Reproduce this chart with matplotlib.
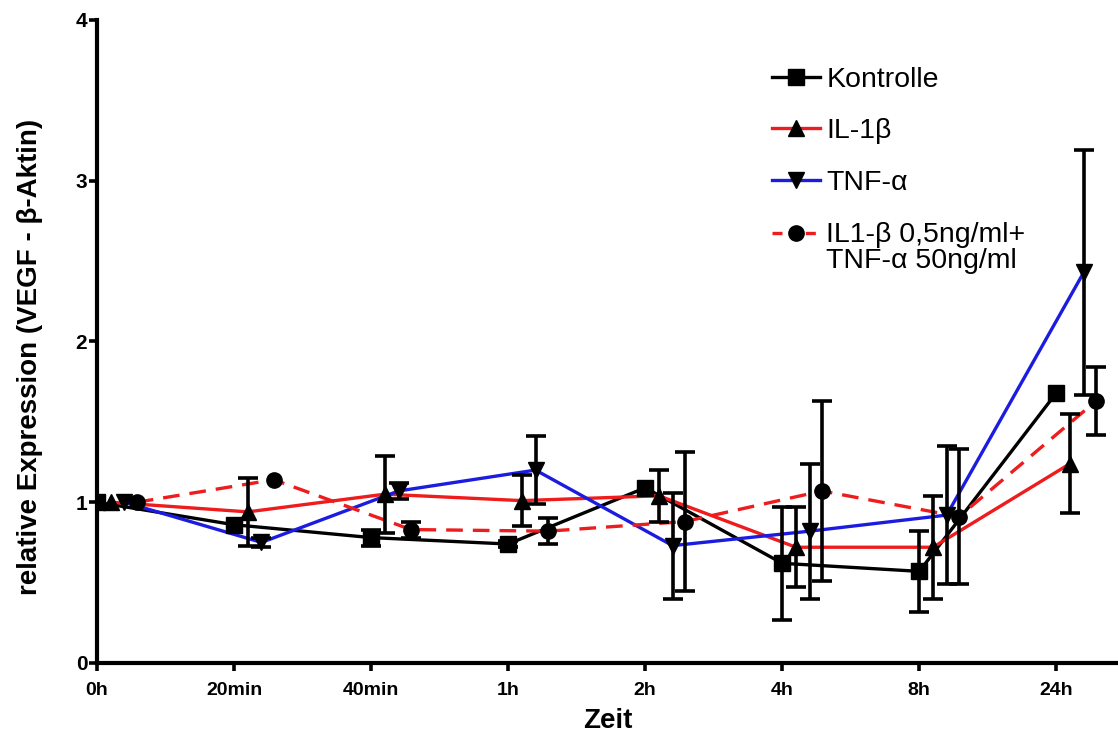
import numpy as np
import matplotlib
matplotlib.use("Agg")
import matplotlib.pyplot as plt
from matplotlib.lines import Line2D
from matplotlib.legend_handler import HandlerLine2D

# values
zeit = ["0h", "20min", "40min", "1h", "2h", "4h", "8h", "24h"]

kontrolle = [1.0, 0.86, 0.78, 0.74, 1.09, 0.62, 0.57, 1.68]
kontrolle_err = [np.nan, np.nan, 0.05, 0.02, np.nan, 0.35, 0.25, np.nan]

il1b = [1.0, 0.94, 1.05, 1.01, 1.04, 0.72, 0.72, 1.24]
il1b_err = [np.nan, 0.21, 0.24, 0.16, 0.16, 0.25, 0.32, 0.31]

tnfa = [1.0, 0.75, 1.07, 1.20, 0.73, 0.82, 0.92, 2.43]
tnfa_err = [np.nan, 0.03, 0.05, 0.21, 0.33, 0.42, 0.43, 0.76]

kombi = [1.0, 1.14, 0.83, 0.82, 0.88, 1.07, 0.91, 1.63]
kombi_err = [np.nan, np.nan, 0.05, 0.08, 0.43, 0.56, 0.42, 0.21]

labels = ["Kontrolle", "IL-1β", "TNF-α", "IL1-β 0,5ng/ml+\nTNF-α 50ng/ml"]

plt.rcParams['font.family'] = ['Liberation Sans', 'DejaVu Sans']


class TopHandler(HandlerLine2D):
    # put the handle next to the first line of a two line label
    def create_artists(self, legend, orig_handle, xdescent, ydescent,
                       width, height, fontsize, trans):
        arts = super().create_artists(legend, orig_handle, xdescent, ydescent,
                                      width, height, fontsize, trans)
        for a in arts:
            a.set_ydata(np.asarray(a.get_ydata()) + 0.5 * fontsize)
        return arts


fig = plt.figure(figsize=(11.18, 7.43), dpi=100)
ax = fig.add_axes([0.0868, 0.1077, 0.9132, 0.8654])

x = np.arange(len(zeit))
# series are shifted a bit to the right so the error bars don't overlap
series = [
    (kontrolle, kontrolle_err, "black", "s", "-", 0.0),
    (il1b, il1b_err, "#ee1c1c", "^", "-", 0.1),
    (tnfa, tnfa_err, "#1c1ce0", "v", "-", 0.2),
    (kombi, kombi_err, "#ee1c1c", "o", "--", 0.29),
]

for vals, err, col, mk, ls, off in series:
    xs = x + off
    ax.plot(xs, vals, color=col, ls=ls, lw=2.4, zorder=2,
            dashes=(5, 3) if ls == "--" else (None, None))
for vals, err, col, mk, ls, off in series:
    xs = x + off
    ax.errorbar(xs, vals, yerr=err, fmt="none", ecolor="black",
                elinewidth=2.6, capsize=7.5, capthick=2.6, zorder=3)
    ax.plot(xs, vals, ls="none", marker=mk, ms=11, mfc="black",
            mec="black", zorder=4)

ax.set_xlim(0, 7.45)
ax.set_ylim(0, 4)
ax.set_xticks(x)
ax.set_xticklabels(zeit, fontsize=14, fontweight="bold")
ax.set_yticks([0, 1, 2, 3, 4])
ax.set_yticklabels(["0", "1", "2", "3", "4"], fontsize=15, fontweight="bold")

for s in ["top", "right"]:
    ax.spines[s].set_visible(False)
for s in ["left", "bottom"]:
    ax.spines[s].set_linewidth(3)
ax.tick_params(axis="both", direction="out", length=6, width=2.6, pad=1)
ax.tick_params(axis="x", pad=8)

ax.set_ylabel("relative Expression (VEGF - β-Aktin)", fontsize=20,
              fontweight="bold")
ax.yaxis.set_label_coords(-0.053, 0.476)
ax.set_xlabel("Zeit", fontsize=20, fontweight="bold", labelpad=6)

handles = []
for vals, err, col, mk, ls, off in series:
    h = Line2D([], [], color=col, ls=ls, lw=2.4, marker=mk, ms=11,
               mfc="black", mec="black")
    if ls == "--":
        h.set_dashes((3, 2))
    handles.append(h)

leg = ax.legend(handles, labels, loc="upper left",
                bbox_to_anchor=(0.65, 0.945), frameon=False, fontsize=20.5,
                handlelength=1.7, handletextpad=0.2, labelspacing=0.9,
                borderaxespad=0, handler_map={handles[3]: TopHandler()})
leg.get_texts()[3].set_linespacing(1.0)

fig.savefig("out.png", dpi=100)
